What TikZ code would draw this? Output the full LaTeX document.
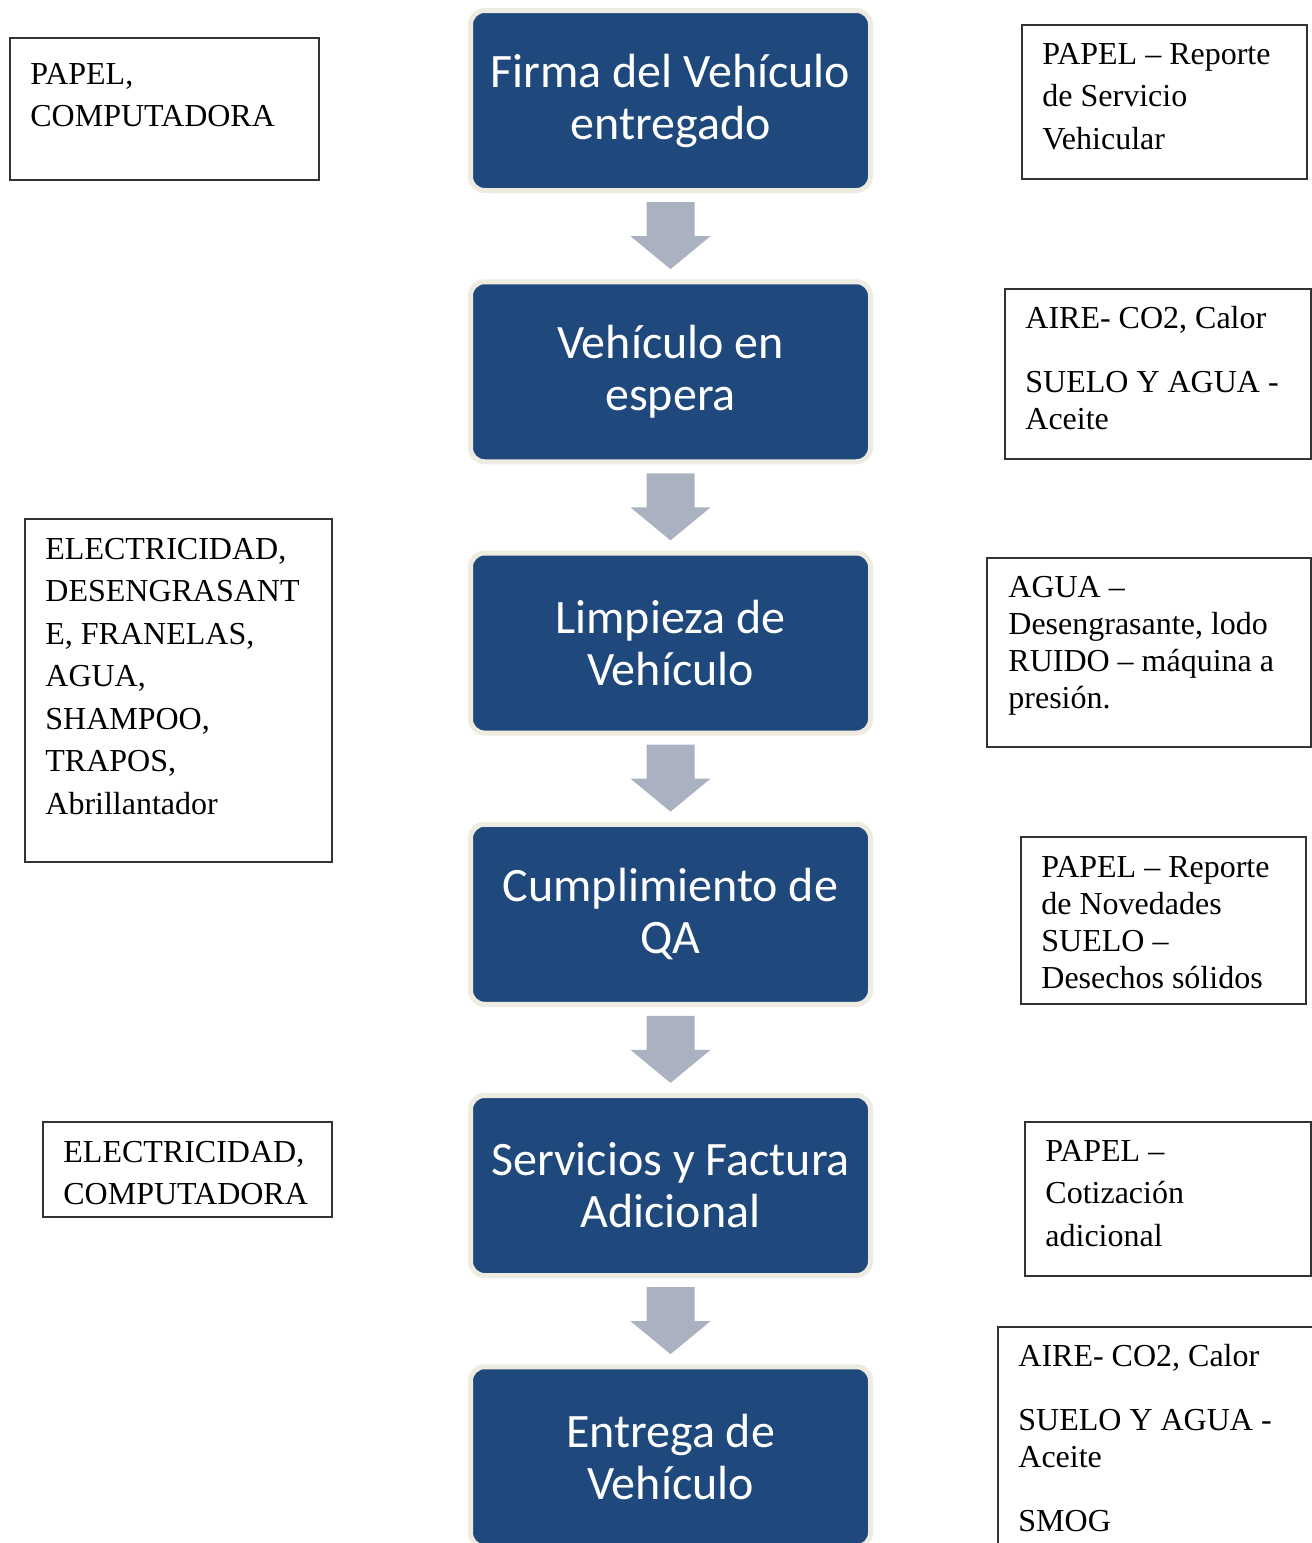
\documentclass[tikz,border=0pt]{standalone}
\usepackage{fontspec}
\setmainfont{Liberation Serif}
\newfontfamily\calib{Carlito}
\usetikzlibrary{calc,fit}

\definecolor{procblue}{HTML}{1F497D}
\definecolor{proccream}{HTML}{EEEBE0}
\definecolor{arrowgray}{RGB}{170,177,192}

% block arrow between two consecutive process steps
\newcommand\procarrow[2]{%
  \coordinate (m-#1-#2) at ($(#1.south)!0.5!(#2.north)$);
  \fill[arrowgray] ($(m-#1-#2)+(-24,-34)$) -- ($(m-#1-#2)+(24,-34)$)
    -- ($(m-#1-#2)+(24,0)$) -- ($(m-#1-#2)+(40,0)$) -- ($(m-#1-#2)+(0,33)$)
    -- ($(m-#1-#2)+(-40,0)$) -- ($(m-#1-#2)+(-24,0)$) -- cycle;}

\tikzset{
  stepbox/.style={draw=proccream, line width=2.5pt, fill=procblue,
    rounded corners=7pt, minimum width=200pt, minimum height=90pt,
    text=white, align=center, inner sep=0pt,
    font=\calib\fontsize{24}{26}\selectfont},
  sidebox/.style={draw=black!80, line width=0.65pt, inner sep=0pt},
  sidetext/.style={anchor=base west, inner sep=0pt,
    font=\fontsize{16}{21.25}\selectfont},
  tighttext/.style={sidetext, font=\fontsize{16}{18.5}\selectfont},
}

\begin{document}
\begin{tikzpicture}[x=0.5pt, y=-0.5pt]
\clip (0,0) rectangle (1312,1543);
\fill[white] (0,0) rectangle (1312,1543);

% process steps
\node[stepbox] (s1) at (670.5,100.5)  {Firma del Vehículo\\entregado};
\node[stepbox] (s2) at (670.5,371.75) {Vehículo en\\espera};
\node[stepbox] (s3) at (670.5,643)    {Limpieza de\\Vehículo};
\node[stepbox] (s4) at (670.5,914.25) {Cumplimiento de\\QA};
\node[stepbox] (s5) at (670.5,1185.5) {Servicios y Factura\\Adicional};
\node[stepbox] (s6) at (670.5,1456.75){Entrega de\\Vehículo};

\procarrow{s1}{s2}
\procarrow{s2}{s3}
\procarrow{s3}{s4}
\procarrow{s4}{s5}
\procarrow{s5}{s6}

% inputs (left)
\node[sidebox, fit={(10,38) (319,180)}] (in1) {};
\node[sidetext] (in1t) at (30,84) {\parbox[t]{300pt}{PAPEL,\\COMPUTADORA}};

\node[sidebox, fit={(25,519) (332,862)}] (in3) {};
\node[sidetext] (in3t) at (45,559) {\parbox[t]{300pt}{ELECTRICIDAD,\\DESENGRASANT\\E, FRANELAS,\\AGUA,\\SHAMPOO,\\TRAPOS,\\Abrillantador}};

\node[sidebox, fit={(43,1122) (332,1217)}] (in5) {};
\node[sidetext] (in5t) at (63,1162) {\parbox[t]{300pt}{ELECTRICIDAD,\\COMPUTADORA}};

% outputs (right)
\node[sidebox, fit={(1022,25) (1307,179)}] (out1) {};
\node[sidetext] (out1t) at (1042,64) {\parbox[t]{300pt}{PAPEL – Reporte\\de Servicio\\Vehicular}};

\node[sidebox, fit={(1005,289) (1311,459)}] (out2) {};
\node[tighttext] (out2t) at (1025,328) {\parbox[t]{300pt}{AIRE- CO2, Calor\\[13.5pt]SUELO Y AGUA -\\Aceite}};

\node[sidebox, fit={(987,558) (1311,747)}] (out3) {};
\node[tighttext] (out3t) at (1008,597) {\parbox[t]{300pt}{AGUA –\\Desengrasante, lodo\\RUIDO – máquina a\\presión.}};

\node[sidebox, fit={(1021,837) (1306,1004)}] (out4) {};
\node[tighttext] (out4t) at (1041,877) {\parbox[t]{300pt}{PAPEL – Reporte\\de Novedades\\SUELO –\\Desechos sólidos}};

\node[sidebox, fit={(1025,1122) (1311,1276)}] (out5) {};
\node[sidetext] (out5t) at (1045,1161) {\parbox[t]{300pt}{PAPEL –\\Cotización\\adicional}};

\node[sidebox, fit={(998,1327) (1330,1560)}] (out6) {};
\node[tighttext] (out6t) at (1018,1366) {\parbox[t]{300pt}{AIRE- CO2, Calor\\[13.5pt]SUELO Y AGUA -\\Aceite\\[13.5pt]SMOG}};
\end{tikzpicture}
\end{document}
